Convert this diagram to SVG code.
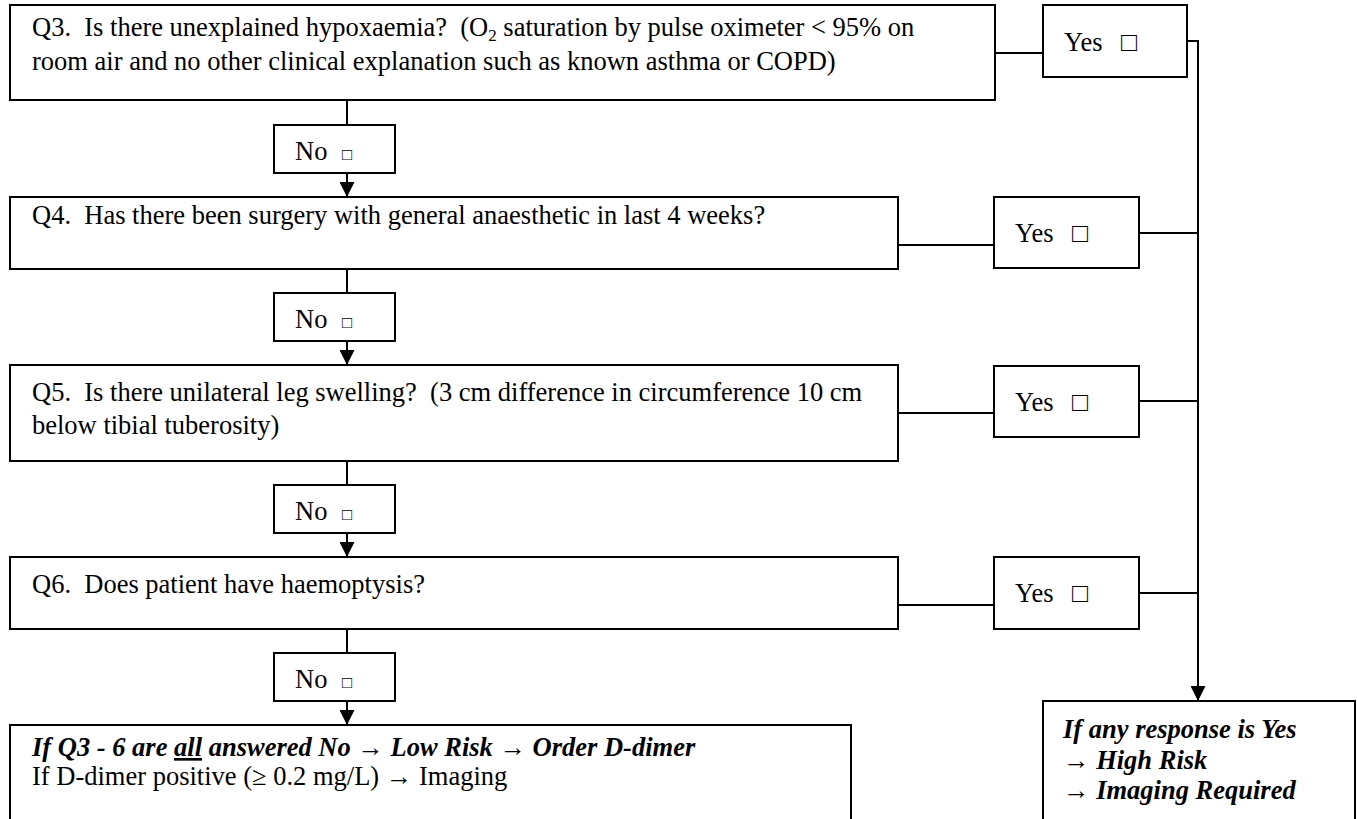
<svg xmlns="http://www.w3.org/2000/svg" width="1357" height="819" viewBox="0 0 1357 819">
<style>
.box{fill:#fff;stroke:#000;stroke-width:2}
.t{font-family:"Liberation Serif","Times New Roman",serif;font-size:26.5px;fill:#000}
.bi{font-weight:bold;font-style:italic}
.sq{font-size:17px}
.ln{fill:none;stroke:#000;stroke-width:2}
</style>
<defs>
<marker id="ah" markerWidth="16" markerHeight="15" refX="15" refY="7.5" orient="auto" markerUnits="userSpaceOnUse">
<path d="M0,0 L15,7.5 L0,15 Z" fill="#000"/>
</marker>
</defs>
<rect width="1357" height="819" fill="#fff"/>
<g id="connectors">
<path class="ln" d="M347,100 V125"/>
<path class="ln" d="M347,173 V197" marker-end="url(#ah)"/>
<path class="ln" d="M347,269 V293"/>
<path class="ln" d="M347,341 V365" marker-end="url(#ah)"/>
<path class="ln" d="M347,461 V485"/>
<path class="ln" d="M347,533 V557" marker-end="url(#ah)"/>
<path class="ln" d="M347,629 V653"/>
<path class="ln" d="M347,701 V725" marker-end="url(#ah)"/>
<path class="ln" d="M995,53 H1043"/>
<path class="ln" d="M898,245 H994"/>
<path class="ln" d="M898,413 H994"/>
<path class="ln" d="M898,605 H994"/>
<path class="ln" d="M1187,41 H1198"/>
<path class="ln" d="M1139,233 H1198"/>
<path class="ln" d="M1139,401 H1198"/>
<path class="ln" d="M1139,593 H1198"/>
<path class="ln" d="M1198,40 V701" marker-end="url(#ah)"/>
</g>
<g id="q3">
<rect class="box" x="10" y="5" width="985" height="95"/>
<text class="t" x="32" y="36" xml:space="preserve">Q3.  Is there unexplained hypoxaemia?  (O<tspan font-size="17" dy="5">2</tspan><tspan dy="-5"> saturation by pulse oximeter &lt; 95% on</tspan></text>
<text class="t" x="32" y="70">room air and no other clinical explanation such as known asthma or COPD)</text>
</g>
<g id="yes3">
<rect class="box" x="1043" y="5" width="144" height="72"/>
<text class="t" x="1064" y="51">Yes</text>
<text class="t" x="1121" y="51">□</text>
</g>
<g id="no3">
<rect class="box" x="274" y="125" width="121" height="48"/>
<text class="t" x="295" y="160">No</text>
<text class="t sq" x="342" y="160">□</text>
</g>
<g id="q4">
<rect class="box" x="10" y="197" width="888" height="72"/>
<text class="t" x="32" y="224" xml:space="preserve">Q4.  Has there been surgery with general anaesthetic in last 4 weeks?</text>
</g>
<g id="yes4">
<rect class="box" x="994" y="197" width="145" height="71"/>
<text class="t" x="1015" y="242">Yes</text>
<text class="t" x="1072" y="242">□</text>
</g>
<g id="no4">
<rect class="box" x="274" y="293" width="121" height="48"/>
<text class="t" x="295" y="328">No</text>
<text class="t sq" x="342" y="328">□</text>
</g>
<g id="q5">
<rect class="box" x="10" y="365" width="888" height="96"/>
<text class="t" x="32" y="401" xml:space="preserve">Q5.  Is there unilateral leg swelling?  (3 cm difference in circumference 10 cm</text>
<text class="t" x="32" y="434">below tibial tuberosity)</text>
</g>
<g id="yes5">
<rect class="box" x="994" y="366" width="145" height="71"/>
<text class="t" x="1015" y="411">Yes</text>
<text class="t" x="1072" y="411">□</text>
</g>
<g id="no5">
<rect class="box" x="274" y="485" width="121" height="48"/>
<text class="t" x="295" y="520">No</text>
<text class="t sq" x="342" y="520">□</text>
</g>
<g id="q6">
<rect class="box" x="10" y="557" width="888" height="72"/>
<text class="t" x="32" y="593" xml:space="preserve">Q6.  Does patient have haemoptysis?</text>
</g>
<g id="yes6">
<rect class="box" x="994" y="557" width="145" height="72"/>
<text class="t" x="1015" y="602">Yes</text>
<text class="t" x="1072" y="602">□</text>
</g>
<g id="no6">
<rect class="box" x="274" y="653" width="121" height="48"/>
<text class="t" x="295" y="688">No</text>
<text class="t sq" x="342" y="688">□</text>
</g>
<g id="lowrisk">
<rect class="box" x="10" y="725" width="841" height="110"/>
<text class="t bi" x="32" y="756">If Q3 - 6 are <tspan text-decoration="underline">all</tspan> answered No → Low Risk → Order D-dimer</text>
<text class="t" x="32" y="785">If D-dimer positive (≥ 0.2 mg/L) → Imaging</text>
</g>
<g id="highrisk">
<rect class="box" x="1043" y="701" width="312" height="130"/>
<text class="t bi" x="1063" y="738">If any response is Yes</text>
<text class="t bi" x="1063" y="769">→ High Risk</text>
<text class="t bi" x="1063" y="799">→ Imaging Required</text>
</g>
</svg>
